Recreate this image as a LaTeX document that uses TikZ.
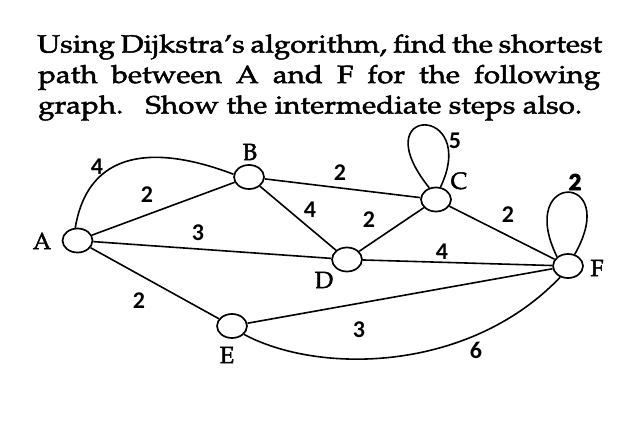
\documentclass[tikz,border=0pt]{standalone}
\usepackage{fontspec}
\usepackage[T1,TU]{fontenc}
\usetikzlibrary{shapes.geometric}
\newfontfamily\digitfont{Carlito}
\newcommand\txtfont{\fontencoding{T1}\fontfamily{ppl}\fontsize{25pt}{28pt}\selectfont}
\newcommand\lblfont{\fontencoding{T1}\fontfamily{ppl}\fontsize{23.5pt}{25pt}\selectfont}
\newcommand\heavy[1]{\special{pdf:literal direct 0.45 w 2 Tr}#1\special{pdf:literal direct 0 Tr}}
\newcommand\heavier[1]{\special{pdf:literal direct 0.9 w 2 Tr}#1\special{pdf:literal direct 0 Tr}}
\newlength\lenLine
\tikzset{
  vert/.style={draw, ellipse, minimum width=30pt, minimum height=24pt, inner sep=0pt, line width=1.7pt, fill=white},
  edge/.style={line width=1.6pt},
  vlab/.style={inner sep=0pt, font=\lblfont},
  wlab/.style={inner sep=0pt, font=\digitfont\bfseries\fontsize{24pt}{26pt}\selectfont},
  wlabb/.style={inner sep=0pt, font=\digitfont\bfseries\fontsize{24.5pt}{26pt}\selectfont}
}
\newcommand\lineThree{graph.\hspace{0.75em}Show the intermediate steps also.}
\AtBeginDocument{\settowidth\lenLine{\txtfont\lineThree}}
\begin{document}
\begin{tikzpicture}[x=1pt,y=-1pt]
\useasboundingbox[fill=white] (0,0) rectangle (633,441);
% text
\pgfmathsetmacro\sx{544/\lenLine}
\pgfmathsetlengthmacro\wfull{565/\sx}
\pgfmathsetlengthmacro\wtwo{562/\sx}
\node[anchor=base west, inner sep=0pt] (t1) at (37,52.5) {\scalebox{\sx}[1]{\makebox[\wfull][s]{\txtfont\heavy{Using Dijkstra's algorithm, find the shortest}}}};
\node[anchor=base west, inner sep=0pt] (t2) at (38,83) {\scalebox{\sx}[1]{\makebox[\wtwo][s]{\txtfont\heavy{path between A and F for the following}}}};
\node[anchor=base west, inner sep=0pt] (t3) at (38,113.5) {\scalebox{\sx}[1]{\txtfont\heavy{\lineThree}}};
% vertices
\node[vert] (A) at (77.5,240.5) {};
\node[vert] (B) at (249,177) {};
\node[vert] (C) at (436,199.5) {};
\node[vert] (D) at (347,259.5) {};
\node[vert] (E) at (232,326) {};
\node[vert] (F) at (568,266) {};
% edges
\draw[edge] (A.100) .. controls (90,140) and (170,150) .. (B.170);
\draw[edge] (A) -- (B);
\draw[edge] (A) -- (D);
\draw[edge] (A) -- (E);
\draw[edge] (B) -- (C);
\draw[edge] (B) -- (D);
\draw[edge] (D) -- (C);
\draw[edge] (C) -- (F);
\draw[edge] (D) -- (F);
\draw[edge] (E) -- (F);
\draw[edge] (E.-35) .. controls (320,375) and (470,372) .. (F.-125);
\draw[edge] (C.120) .. controls (362,104) and (480,104) .. (C.70);
\draw[edge] (F.140) .. controls (515,171) and (622,171) .. (F.60);
% vertex labels
\node[vlab] (lA) at (42,241) {\heavy{A}};
\node[vlab] (lB) at (250,152) {\heavy{B}};
\node[vlab] (lC) at (459,181) {\heavy{C}};
\node[vlab] (lD) at (324,280) {\heavy{D}};
\node[vlab] (lE) at (227,355) {\heavy{E}};
\node[vlab] (lF) at (597,268) {\heavy{F}};
% weights
\node[wlab] (wAB1) at (97,167) {4};
\node[wlab] (wAB2) at (147,195) {2};
\node[wlab] (wAD) at (198,233) {3};
\node[wlab] (wBC) at (340,173) {2};
\node[wlab] (wBD) at (310,210) {4};
\node[wlab] (wCC) at (455,141) {5};
\node[wlab] (wDC) at (369,220) {2};
\node[wlab] (wCF) at (508,215) {2};
\node[wlabb] (wFF) at (575,182) {\heavier{2}};
\node[wlab] (wDF) at (442,252) {4};
\node[wlab] (wAE) at (139,301) {2};
\node[wlab] (wEF) at (359,330) {3};
\node[wlab] (wEF2) at (476,350) {6};
\end{tikzpicture}
\end{document}
